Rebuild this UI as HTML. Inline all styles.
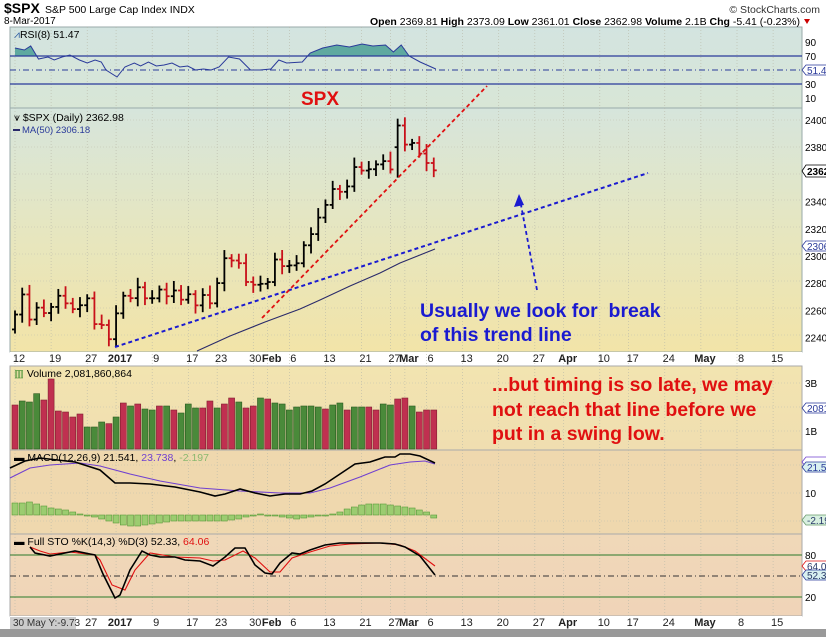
<!DOCTYPE html>
<html><head><meta charset="utf-8"><style>
html,body{margin:0;padding:0;background:#fff;width:826px;height:637px;overflow:hidden}
svg{display:block;font-family:"Liberation Sans",sans-serif}
</style></head><body>
<svg id="s" width="826" height="637" xmlns="http://www.w3.org/2000/svg">
<defs>
<linearGradient id="gp" x1="0" y1="0" x2="0" y2="1"><stop offset="0" stop-color="#d6e5dc"/><stop offset="0.5" stop-color="#e6e6c0"/><stop offset="1" stop-color="#f2e4a8"/></linearGradient>
<linearGradient id="gr" x1="0" y1="0" x2="0" y2="1"><stop offset="0" stop-color="#d3e4e0"/><stop offset="1" stop-color="#d8e6d6"/></linearGradient>
<linearGradient id="gv" x1="0" y1="0" x2="0" y2="1"><stop offset="0" stop-color="#f2e4b0"/><stop offset="1" stop-color="#f0deb0"/></linearGradient>
<linearGradient id="gs" x1="0" y1="0" x2="0" y2="1"><stop offset="0" stop-color="#f0d8b8"/><stop offset="1" stop-color="#f0d4b8"/></linearGradient>
</defs>
<g id="g"></g>
</svg>
<script>
var S='';function a(t){S+=t;}
a('<rect x="10" y="27" width="792" height="81" fill="url(#gr)" stroke="#9aa" stroke-width="1"/>');
a('<rect x="10" y="108" width="792" height="244" fill="url(#gp)" stroke="#9aa"/>');
a('<rect x="10" y="352" width="792" height="14" fill="#fff"/>');
a('<rect x="10" y="366" width="792" height="84" fill="url(#gv)" stroke="#aaa"/>');
a('<rect x="10" y="450" width="792" height="84" fill="#efd8ae" stroke="#aaa"/>');
a('<rect x="10" y="534" width="792" height="82" fill="url(#gs)" stroke="#aaa"/>');
a('<rect x="10" y="616" width="792" height="12" fill="#fff"/>');
a('<rect x="0" y="629" width="826" height="8" fill="#999"/>');
function bx(i){return 15+i*7.22;}
var dl=[[0,'12'],[5,'19'],[10,'27'],[14,'2017',1],[19,'9'],[24,'17'],[28,'23'],[33,'30'],[35,'Feb',1],[38,'6'],[43,'13'],[48,'21'],[52,'27'],[54,'Mar',1],[57,'6'],[62,'13'],[67,'20'],[72,'27'],[76,'Apr',1],[81,'10'],[85,'17'],[90,'24'],[95,'May',1],[100,'8'],[105,'15']];
dl.forEach(function(d){var x=bx(d[0]);
 a('<line x1="'+x+'" y1="27" x2="'+x+'" y2="616" stroke="#b8b8a8" stroke-width="0.6" stroke-dasharray="1,2"/>');
 [362,626].forEach(function(y){a('<text x="'+(d[1]=='30'?x+2:x+4)+'" y="'+y+'" font-size="11" text-anchor="middle" font-weight="'+(d[2]?'bold':'normal')+'" fill="#222">'+d[1]+'</text>');});
});
[120,147,174,200,227,254,281,308,335,383,407,431,465,493,521].forEach(function(y){a('<line x1="10" y1="'+y+'" x2="802" y2="'+y+'" stroke="#c0c0b0" stroke-width="0.6" stroke-dasharray="1,2"/>');});
a('<rect x="10" y="617" width="66" height="12" fill="#ccc"/><text x="13" y="626" font-size="10" fill="#333">30 May Y:-9.73</text>');
a('<text x="4" y="13" font-size="14" font-weight="bold" fill="#000">$SPX</text><text x="45" y="13" font-size="10.5" fill="#000">S&amp;P 500 Large Cap Index  INDX</text>');
a('<text x="4" y="24" font-size="10" fill="#000">8-Mar-2017</text>');
a('<text x="820" y="13" font-size="10.5" fill="#333" text-anchor="end">© StockCharts.com</text>');
a('<text x="800" y="25" font-size="10.5" fill="#000" text-anchor="end"><tspan font-weight="bold">Open</tspan> 2369.81 <tspan font-weight="bold">High</tspan> 2373.09 <tspan font-weight="bold">Low</tspan> 2361.01 <tspan font-weight="bold">Close</tspan> 2362.98 <tspan font-weight="bold">Volume</tspan> 2.1B <tspan font-weight="bold">Chg</tspan> -5.41 (-0.23%)</text><path d="M804 19 l6 0 l-3 5z" fill="#c00"/>');
var rp=[[7,48],[13,50],[17,46],[22,59],[28,57],[32,60],[37,57],[42,55],[48,60],[53,63],[58,60],[62,62],[65,70],[72,77],[77,67],[83,63],[87,66],[92,62],[97,66],[102,65],[107,63],[112,67],[117,66],[122,70],[127,69],[132,70],[137,67],[143,57],[150,59],[157,70],[163,70],[170,69],[175,60],[180,63],[190,62],[195,53],[203,48],[212,45],[220,47],[228,44],[235,46],[243,45],[248,52],[253,45],[258,56],[265,62],[275,69]];
var rs=rp.map(function(p){return [4+p[0]*1.57,p[1]];});
var rstr=rs.map(function(p){return p[0].toFixed(1)+','+p[1];}).join(' ');
a('<clipPath id="c70"><rect x="10" y="27" width="792" height="29"/></clipPath>');
a('<polygon points="'+rs[0][0]+',56 '+rstr+' '+rs[rs.length-1][0]+',56" fill="#5fa9a0" clip-path="url(#c70)"/>');
a('<line x1="10" y1="56" x2="802" y2="56" stroke="#2a3a9a" stroke-width="1.3"/><line x1="10" y1="84" x2="802" y2="84" stroke="#2a3a9a" stroke-width="1.3"/><line x1="10" y1="70" x2="802" y2="70" stroke="#2a3a9a" stroke-width="1" stroke-dasharray="6,3,1,3"/>');
a('<polyline points="'+rstr+'" fill="none" stroke="#2a3a9a" stroke-width="1"/>');
a('<text x="14" y="38" font-size="10.5" fill="#000"><tspan fill="#2a5aa0">⩘</tspan>RSI(8) 51.47</text>');
[[90,42],[70,56],[30,84],[10,98]].forEach(function(l){a('<text x="805" y="'+(l[1]+4)+'" font-size="10" fill="#000">'+l[0]+'</text>');});
a('<path d="M802 70 l4 -5 h22 v10 h-22z" fill="#fff" stroke="#2a3a9a" stroke-width="0.8"/><text x="807" y="74" font-size="10" fill="#2a3a9a">51.47</text>');
var C=[2256.96,2271.72,2253.28,2262.03,2258.07,2262.53,2270.76,2265.18,2260.96,2263.79,2268.88,2249.92,2249.26,2238.83,2257.83,2270.75,2269.00,2276.98,2268.90,2268.90,2275.32,2270.44,2274.64,2267.89,2271.89,2263.69,2271.31,2265.20,2280.07,2298.37,2296.68,2294.69,2280.90,2278.87,2279.55,2280.85,2297.42,2292.56,2293.08,2294.67,2307.87,2316.10,2328.25,2337.58,2349.25,2347.22,2351.16,2365.38,2362.82,2363.81,2367.34,2369.75,2363.64,2395.96,2381.92,2383.12,2375.31,2368.39,2362.98];
function py(p){return 120+(2400-p)*1.36;}
var prev=2246;
C.forEach(function(c,i){var o=prev,x=bx(i),h=Math.max(o,c)+3+(i*7%5),l=Math.min(o,c)-3-(i*3%4);
 if(i==13)l=2233.6; if(i==53){h=2400.98;o=2380;}
 var col=c<prev?'#c8101a':'#000';
 a('<line x1="'+x+'" y1="'+py(h)+'" x2="'+x+'" y2="'+py(l)+'" stroke="'+col+'" stroke-width="1.8"/>');
 a('<line x1="'+(x-3)+'" y1="'+py(o)+'" x2="'+x+'" y2="'+py(o)+'" stroke="'+col+'" stroke-width="1.8"/>');
 a('<line x1="'+x+'" y1="'+py(c)+'" x2="'+(x+3)+'" y2="'+py(c)+'" stroke="'+col+'" stroke-width="1.8"/>');
 prev=c;});
a('<polyline points="197,351 230,336 265,322 300,309 320,300 350,286 380,273 400,263 435,249" fill="none" stroke="#2a2a6a" stroke-width="1.1"/>');
a('<line x1="115" y1="347" x2="648" y2="173" stroke="#1a1ad0" stroke-width="2" stroke-dasharray="4,3"/>');
a('<line x1="262" y1="318" x2="487" y2="86" stroke="#e01010" stroke-width="1.8" stroke-dasharray="4,3"/>');
a('<line x1="537" y1="290" x2="521" y2="205" stroke="#1a1ad0" stroke-width="1.8" stroke-dasharray="4,3"/><path d="M519 194 l-5 13 l10 -2z" fill="#1a1ad0"/>');
a('<text x="14" y="121" font-size="10.5" fill="#000">⩛ $SPX (Daily) 2362.98</text><line x1="13" y1="130" x2="20" y2="130" stroke="#2a2a6a" stroke-width="2"/><text x="22" y="133" font-size="9.5" fill="#2a3a9a">MA(50) 2306.18</text>');
[2400,2380,2340,2320,2300,2280,2260,2240].forEach(function(p){a('<text x="805" y="'+(py(p)+4)+'" font-size="10" fill="#000">'+p+'</text>');});
a('<path d="M802 171 l4 -6 h22 v12 h-22z" fill="#fff" stroke="#000" stroke-width="0.8"/><text x="807" y="175" font-size="10" font-weight="bold" fill="#000">2362</text>');
a('<path d="M802 246 l4 -5 h22 v10 h-22z" fill="#fff" stroke="#2a3a9a" stroke-width="0.8"/><text x="807" y="250" font-size="10" fill="#2a3a9a">2306</text>');
a('<text x="301" y="105" font-size="19" font-weight="bold" fill="#e01010">SPX</text>');
a('<text x="420" y="317" font-size="19.5" font-weight="bold" fill="#1a1ad0" xml:space="preserve">Usually we look for  break</text><text x="420" y="341" font-size="19.5" font-weight="bold" fill="#1a1ad0">of this trend line</text>');
var vt=[135,123,126,101,120,57,153,156,171,162,201,201,186,191,171,129,138,132,147,150,138,138,150,159,132,144,144,123,144,132,114,126,144,138,114,117,129,132,150,141,138,138,141,147,135,129,150,141,141,141,150,132,135,117,114,138,156,150,150,141];
var vc='rgggrrrrrrgggrgrgrggrgrgggrrgrrgrrgrgggggggrggrggrrggrrgrrrr';
for(var i=0;i<59;i++){var x=bx(i),y=360+vt[i]/3;var g=vc[i]=='g';
 a('<rect x="'+(x-3)+'" y="'+y+'" width="6" height="'+(449-y)+'" fill="'+(g?'#4a8a3a':'#c03050')+'" stroke="'+(g?'#2a5a20':'#802030')+'" stroke-width="0.6"/>');}
a('<text x="14" y="377" font-size="10.5" fill="#000"><tspan fill="#3a8a2a">▥</tspan> Volume 2,081,860,864</text>');
a('<text x="805" y="387" font-size="10" fill="#000">3B</text><text x="805" y="435" font-size="10" fill="#000">1B</text>');
a('<path d="M802 408 l4 -5 h22 v10 h-22z" fill="#fff" stroke="#2a3a9a" stroke-width="0.8"/><text x="807" y="412" font-size="10" fill="#2a3a9a">2081</text>');
a('<text x="492" y="391" font-size="19.5" font-weight="bold" fill="#e01010">...but timing is so late, we may</text><text x="492" y="416" font-size="19.5" font-weight="bold" fill="#e01010">not reach that line before we</text><text x="492" y="440" font-size="19.5" font-weight="bold" fill="#e01010">put in a swing low.</text>');
var hv=[-12,-12,-13,-11,-9,-7,-6,-5,-3,-1,1,2,4,6,8,10,11,11,10,9,8,7,6,6,6,6,6,6,6,6,5,4,2,0,-1,0,1,2,3,4,3,2,1,0,-1,-3,-6,-8,-10,-11,-11,-11,-10,-9,-8,-7,-5,-3,3];
for(var i=0;i<59;i++){var x=bx(i),v=hv[i];a('<rect x="'+(x-3)+'" y="'+(v<0?515+v:515)+'" width="6" height="'+Math.max(Math.abs(v),1)+'" fill="#9ccc70" stroke="#5a9a3a" stroke-width="0.6"/>');}
a('<polyline points="10,478 30,468 50,465 80,463 100,466 130,474 160,481 200,488 240,491 280,493 310,493 330,488 360,477 390,465 410,462 425,461 435,464" fill="none" stroke="#7040d0" stroke-width="1.1"/>');
a('<polyline points="10,468 25,461 40,458 75,462 100,470 115,483 130,483 150,484 175,487 200,492 215,496 225,494 240,489 255,493 270,496 285,494 300,494 312,491 325,484 340,474 355,464 370,462 385,457 395,457 400,454 410,454 420,456 435,463" fill="none" stroke="#000" stroke-width="1.6"/>');
a('<text x="14" y="461" font-size="10.5" fill="#000">▬ MACD(12,26,9) 21.541, <tspan fill="#7040d0">23.738</tspan>, <tspan fill="#8ab870">-2.197</tspan></text>');
a('<text x="805" y="497" font-size="10" fill="#000">10</text>');
a('<path d="M802 462 l4 -5 h22 v10 h-22z" fill="#fff" stroke="#7040d0" stroke-width="0.8"/><path d="M802 467 l4 -5 h22 v10 h-22z" fill="#d8f0f0" stroke="#2a3a9a" stroke-width="0.8"/><text x="807" y="471" font-size="10" fill="#2a3a9a">21.54</text>');
a('<path d="M802 520 l4 -5 h22 v10 h-22z" fill="#d8f0e0" stroke="#6a9a6a" stroke-width="0.8"/><text x="807" y="524" font-size="10" fill="#2a3a6a">-2.19</text>');
a('<line x1="10" y1="555" x2="802" y2="555" stroke="#2a7a2a" stroke-width="1"/><line x1="10" y1="597" x2="802" y2="597" stroke="#2a7a2a" stroke-width="1"/><line x1="10" y1="576" x2="802" y2="576" stroke="#333" stroke-width="1" stroke-dasharray="6,3,1,3"/>');
a('<polyline points="30,547 40,551 50,554 70,552 95,555 100,560 112,585 125,590 135,570 150,553 175,557 200,558 213,561 225,560 243,551 255,558 270,572 280,572 292,558 310,552 330,546 350,544 380,543 400,545 415,551 435,566" fill="none" stroke="#e01010" stroke-width="1.1"/>');
a('<polyline points="30,547 35,553 50,556 60,554 75,551 90,554 95,555 103,574 115,598 120,595 130,570 142,551 150,555 160,557 175,557 185,560 200,561 213,566 225,557 235,548 245,548 255,565 265,573 272,574 280,563 292,553 300,554 310,550 325,545 340,543 360,543 380,543 395,544 405,547 420,556 435,575" fill="none" stroke="#000" stroke-width="1.6"/>');
a('<text x="14" y="545" font-size="10.5" fill="#000">▬ Full STO %K(14,3) %D(3) 52.33, <tspan fill="#e01010">64.06</tspan></text>');
a('<text x="805" y="559" font-size="10" fill="#000">80</text><text x="805" y="601" font-size="10" fill="#000">20</text>');
a('<path d="M802 566 l4 -5 h22 v10 h-22z" fill="#fff" stroke="#e01010" stroke-width="0.8"/><text x="807" y="570" font-size="10" fill="#2a3a6a">64.06</text>');
a('<path d="M802 575 l4 -5 h22 v10 h-22z" fill="#d8f0f0" stroke="#2a3a9a" stroke-width="0.8"/><text x="807" y="579" font-size="10" fill="#2a3a6a">52.33</text>');
document.getElementById('g').innerHTML=S;
</script>
</body></html>
